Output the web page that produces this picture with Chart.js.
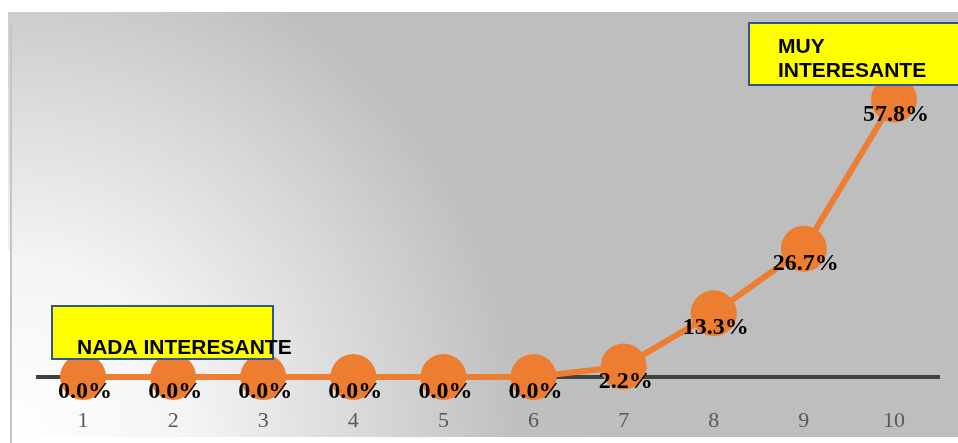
<!DOCTYPE html>
<html>
<head>
<meta charset="utf-8">
<script src="https://cdn.jsdelivr.net/npm/chart.js@4.4.1/dist/chart.umd.min.js"></script>
<style>
  html, body { margin: 0; padding: 0; background: #ffffff; }
  #grafico { display: block; }
</style>
</head>
<body>
<canvas id="grafico" width="958" height="443"></canvas>
<script>
// escala 1..10 y porcentaje de respuestas
const categorias = ["1", "2", "3", "4", "5", "6", "7", "8", "9", "10"];
const porcentajes = [0.0, 0.0, 0.0, 0.0, 0.0, 0.0, 2.2, 13.3, 26.7, 57.8];
const textoBajo = ["NADA INTERESANTE"];
const textoAlto = ["MUY", "INTERESANTE"];

const naranja = "#ED7D31";

// fondo gris con degradado blanco abajo a la izquierda
const plugin_fondo = {
  id: "fondo",
  beforeDraw: (chart) => {
    const ctx = chart.ctx;
    ctx.save();
    const grad = ctx.createRadialGradient(10, 440, 0, 10, 440, 600);
    grad.addColorStop(0, "#ffffff");
    grad.addColorStop(0.3, "#f4f4f4");
    grad.addColorStop(0.6, "#d8d8d8");
    grad.addColorStop(0.85, "#bfbfbf");
    grad.addColorStop(1, "#bebebe");
    ctx.fillStyle = grad;
    ctx.fillRect(8, 12, 950, 425);
    ctx.fillStyle = "#ffffff";
    ctx.fillRect(0, 250, 10, 193);
    ctx.fillStyle = "#c4c4c4";
    ctx.fillRect(10, 23, 2, 420);
    ctx.restore();
  },
};

// etiquetas de porcentaje y cuadros amarillos
const plugin_etiquetas = {
  id: "etiquetas",
  afterDatasetsDraw: (chart) => {
    const ctx = chart.ctx;
    const meta = chart.getDatasetMeta(0);
    ctx.save();

    // cuadro "NADA INTERESANTE"
    ctx.fillStyle = "#ffff00";
    ctx.fillRect(52, 306, 221, 53);
    ctx.strokeStyle = "#2F5597";
    ctx.lineWidth = 2;
    ctx.strokeRect(52, 306, 221, 53);
    ctx.fillStyle = "#000000";
    ctx.font = "bold 21px 'Liberation Sans', Arial, sans-serif";
    ctx.textAlign = "left";
    ctx.textBaseline = "alphabetic";
    ctx.fillText(textoBajo[0], 77, 354);

    // cuadro "MUY INTERESANTE"
    ctx.fillStyle = "#ffff00";
    ctx.fillRect(749, 23, 220, 62);
    ctx.strokeStyle = "#2F5597";
    ctx.strokeRect(749, 23, 220, 62);
    ctx.fillStyle = "#000000";
    textoAlto.forEach((t, i) => ctx.fillText(t, 778, 53 + i * 24));

    // valores
    ctx.font = "bold 24px 'Liberation Serif', 'Times New Roman', serif";
    ctx.textAlign = "center";
    ctx.textBaseline = "middle";
    meta.data.forEach((pt, i) => {
      ctx.fillText(porcentajes[i].toFixed(1) + "%", pt.x + 2, pt.y + 15);
    });
    ctx.restore();
  },
};

const ctx = document.getElementById("grafico").getContext("2d");
const grafico = new Chart(ctx, {
  type: "line",
  data: {
    labels: categorias,
    datasets: [
      {
        data: porcentajes,
        borderColor: naranja,
        borderWidth: 6,
        backgroundColor: naranja,
        pointBackgroundColor: naranja,
        pointBorderWidth: 0,
        pointRadius: 23,
        pointHoverRadius: 23,
        tension: 0,
        clip: false,
      },
    ],
  },
  options: {
    responsive: false,
    animation: false,
    layout: {
      autoPadding: false,
      padding: { left: 38, right: 19, top: 89, bottom: 10 },
    },
    plugins: {
      legend: { display: false },
      tooltip: { enabled: false },
    },
    scales: {
      x: {
        offset: true,
        grid: { display: false, drawTicks: false },
        border: { display: true, color: "#404040", width: 4 },
        ticks: {
          color: "#595959",
          padding: 31,
          font: { family: "'Liberation Serif', 'Times New Roman', serif", size: 22 },
        },
        afterFit: (scale) => {
          scale.height = 56; // altura fija del eje
        },
      },
      y: {
        display: false,
        min: 0,
        max: 60,
      },
    },
  },
  plugins: [plugin_fondo, plugin_etiquetas],
});
</script>
</body>
</html>
